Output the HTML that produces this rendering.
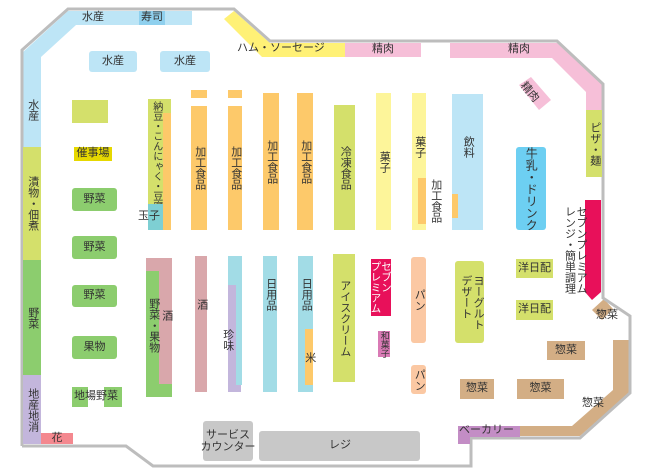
<!DOCTYPE html>
<html><head><meta charset="utf-8"><style>
body{margin:0;width:650px;height:476px;background:#fff;overflow:hidden;position:relative;font-family:"Liberation Sans","Noto Sans CJK JP",sans-serif;color:#333}
.b{position:absolute;display:flex;align-items:center;justify-content:center;font-size:11px;line-height:1.05;white-space:nowrap}
.v{writing-mode:vertical-rl;text-orientation:upright;letter-spacing:0}
.r{border-radius:3px}
svg{position:absolute;left:0;top:0}
.t{position:absolute;font-size:11px;white-space:nowrap;line-height:1.05}
</style></head><body>
<svg width="650" height="476">
<polygon points="23,52 68,11 192,11 192,25 76,25 41,57 41,147 23,147" fill="#bde5f6"/>
<polygon points="224,19 234,11 270,43 270,57 262,57" fill="#fff176"/>
<rect x="262" y="43" width="83" height="14" fill="#fff176"/>
<rect x="345" y="43" width="76" height="14" fill="#f6bfd8"/>
<polygon points="450,43 557,43 603,84 603,110 586,110 586,92 552,58 450,58" fill="#f6bfd8"/>
<polygon points="585,200 601,200 601,292 592,300 585,292" fill="#e8105a"/>
<polygon points="592,310 604,299 613,309 602,320" fill="#d3ae85"/>
<polygon points="613,340 630,340 630,392 580,436 520,436 520,426 572,426 613,390" fill="#d3ae85"/>
<polygon points="519,85 531,77 551,100 539,110" fill="#f6bfd8"/>
<polyline points="22,446 22,50 68,9 234,9 270,41 557,41 603,84 603,298 630,316 630,393 580,438 471,438 471,466 153,466 126,446 22,446" fill="none" stroke="#bdbdbd" stroke-width="3"/>
</svg>
<div class="b" style="left:139px;top:11px;width:26px;height:14px;background:#8fd0ee">寿司</div>
<div class="t" style="left:82px;top:12px">水産</div>
<div class="b v" style="left:23px;top:90px;width:18px;height:40px">水産</div>
<div class="b v" style="left:23px;top:147px;width:18px;height:113px;background:#d4e06b">漬物・佃煮</div>
<div class="b v" style="left:23px;top:260px;width:18px;height:115px;background:#8ccd6e">野菜</div>
<div class="b v" style="left:23px;top:375px;width:18px;height:69px;background:#c3b6dc">地産地消</div>
<div class="b" style="left:41px;top:433px;width:32px;height:11px;background:#f4888f">花</div>
<div class="b r" style="left:89px;top:51px;width:48px;height:21px;background:#bde5f6">水産</div>
<div class="b r" style="left:160px;top:51px;width:50px;height:21px;background:#bde5f6">水産</div>
<div class="b" style="left:72px;top:100px;width:36px;height:23px;background:#d4e06b"></div>
<div class="b" style="left:74px;top:147px;width:38px;height:14px;background:#e6d800">催事場</div>
<div class="b r" style="left:72px;top:188px;width:45px;height:23px;background:#8ccd6e">野菜</div>
<div class="b r" style="left:72px;top:236px;width:45px;height:23px;background:#8ccd6e">野菜</div>
<div class="b r" style="left:72px;top:285px;width:45px;height:22px;background:#8ccd6e">野菜</div>
<div class="b r" style="left:72px;top:336px;width:45px;height:23px;background:#8ccd6e">果物</div>
<div class="b" style="left:72px;top:387px;width:16px;height:20px;background:#8ccd6e"></div>
<div class="b" style="left:104px;top:387px;width:18px;height:20px;background:#8ccd6e"></div>
<div class="t" style="left:74px;top:391px">地場野菜</div>
<div class="b v" style="left:148px;top:99px;width:23px;height:106px;background:#d4e06b;justify-content:flex-start;padding-right:8px;box-sizing:border-box;font-size:10px;padding-top:2px">納豆・こんにゃく・豆腐</div>
<div class="b" style="left:163px;top:113px;width:8px;height:117px;background:#fdc96a"></div>
<div class="b" style="left:148px;top:204px;width:15px;height:26px;background:#7ecfd3"></div>
<div class="t" style="left:138px;top:211px">玉子</div>
<div class="b" style="left:191px;top:90px;width:16px;height:8px;background:#fdc96a"></div>
<div class="b v" style="left:191px;top:106px;width:16px;height:124px;background:#fdc96a">加工食品</div>
<div class="b" style="left:228px;top:90px;width:14px;height:8px;background:#fdc96a"></div>
<div class="b v" style="left:228px;top:106px;width:14px;height:124px;background:#fdc96a">加工食品</div>
<div class="b v" style="left:263px;top:93px;width:16px;height:137px;background:#fdc96a">加工食品</div>
<div class="b v" style="left:297px;top:93px;width:16px;height:137px;background:#fdc96a">加工食品</div>
<div class="b v" style="left:334px;top:105px;width:21px;height:125px;background:#d4e06b">冷凍食品</div>
<div class="b v" style="left:376px;top:93px;width:15px;height:137px;background:#fdf59a">菓子</div>
<div class="b v" style="left:412px;top:93px;width:14px;height:137px;background:#fdf59a;justify-content:center;padding-bottom:30px;box-sizing:border-box">菓子</div>
<div class="b" style="left:418px;top:178px;width:8px;height:46px;background:#fdc96a"></div>
<div class="b v" style="left:428px;top:178px;width:14px;height:46px">加工食品</div>
<div class="b v" style="left:452px;top:94px;width:31px;height:136px;background:#bde5f6;padding-bottom:30px;box-sizing:border-box">飲料</div>
<div class="b" style="left:452px;top:194px;width:6px;height:24px;background:#fdc96a"></div>
<div class="t" style="left:518px;top:87px;transform:rotate(50deg)">精肉</div>
<div class="b v r" style="left:516px;top:147px;width:30px;height:83px;background:#6dcff2;font-size:12px">牛乳・ドリンク</div>
<div class="b v" style="left:586px;top:110px;width:16px;height:67px;background:#d4e06b">ピザ・麺</div>
<div class="t" style="left:237px;top:43px">ハム・ソーセージ</div>
<div class="t" style="left:372px;top:44px">精肉</div>
<div class="t" style="left:508px;top:44px">精肉</div>
<div class="b v" style="left:556px;top:205px;width:30px;height:90px;flex-direction:row;align-items:flex-start;font-size:11px">セブンプレミアム<br>レンジ・簡単調理</div>
<div class="b" style="left:146px;top:258px;width:26px;height:126px;background:#d9a7ab"></div>
<div class="b" style="left:146px;top:271px;width:13px;height:126px;background:#8ccd6e"></div>
<div class="b" style="left:146px;top:384px;width:26px;height:13px;background:#8ccd6e"></div>
<div class="b v" style="left:146px;top:300px;width:14px;height:50px">野菜・果物</div>
<div class="b v" style="left:159px;top:300px;width:14px;height:30px">酒</div>
<div class="b v" style="left:195px;top:256px;width:12px;height:136px;background:#d9a7ab;padding-bottom:40px;box-sizing:border-box">酒</div>
<div class="b" style="left:228px;top:256px;width:14px;height:129px;background:#a2dce6"></div>
<div class="b" style="left:228px;top:285px;width:8px;height:107px;background:#c3b6dc"></div>
<div class="b" style="left:228px;top:385px;width:13px;height:7px;background:#c3b6dc"></div>
<div class="b v" style="left:220px;top:325px;width:14px;height:30px">珍味</div>
<div class="b v" style="left:263px;top:256px;width:14px;height:136px;background:#a2dce6;justify-content:flex-start;padding-top:22px;box-sizing:border-box;align-items:center">日用品</div>
<div class="b v" style="left:298px;top:256px;width:15px;height:136px;background:#a2dce6;justify-content:flex-start;padding-top:22px;box-sizing:border-box">日用品</div>
<div class="b v" style="left:305px;top:329px;width:8px;height:56px;background:#fdc96a">米</div>
<div class="b v" style="left:333px;top:254px;width:22px;height:128px;background:#d4e06b">アイスクリーム</div>
<div class="b v" style="left:371px;top:259px;width:20px;height:57px;background:#e8105a;color:#fff;flex-direction:row;align-items:flex-start;line-height:1;font-size:10.5px">セブン<br>プレミアム</div>
<div class="b v" style="left:378px;top:331px;width:12px;height:26px;background:#d97ab5;font-size:9px">和菓子</div>
<div class="b v r" style="left:411px;top:257px;width:15px;height:86px;background:#fbc8a3">パン</div>
<div class="b v r" style="left:411px;top:365px;width:15px;height:29px;background:#fbc8a3">パン</div>
<div class="b v r" style="left:455px;top:261px;width:29px;height:82px;background:#d4e06b;flex-direction:row;align-items:flex-start;line-height:1.1">ヨーグルト<br>デザート</div>
<div class="b" style="left:516px;top:259px;width:37px;height:19px;background:#d4e06b">洋日配</div>
<div class="b" style="left:516px;top:300px;width:37px;height:20px;background:#d4e06b">洋日配</div>
<div class="t" style="left:596px;top:310px">惣菜</div>
<div class="b" style="left:547px;top:341px;width:38px;height:19px;background:#d3ae85">惣菜</div>
<div class="b" style="left:517px;top:379px;width:47px;height:20px;background:#d3ae85">惣菜</div>
<div class="b" style="left:460px;top:379px;width:34px;height:20px;background:#d3ae85">惣菜</div>
<div class="t" style="left:582px;top:398px">惣菜</div>
<div class="b" style="left:458px;top:426px;width:62px;height:11px;background:#c38dc5"></div>
<div class="b" style="left:458px;top:437px;width:12px;height:7px;background:#c38dc5"></div>
<div class="t" style="left:459px;top:425px">ベーカリー</div>
<div class="b r" style="left:203px;top:421px;width:50px;height:40px;background:#c8c8c8;line-height:1.1;text-align:center">サービス<br>カウンター</div>
<div class="b r" style="left:259px;top:431px;width:161px;height:30px;background:#c8c8c8;justify-content:flex-start;padding-left:70px;box-sizing:border-box">レジ</div>
</body></html>
